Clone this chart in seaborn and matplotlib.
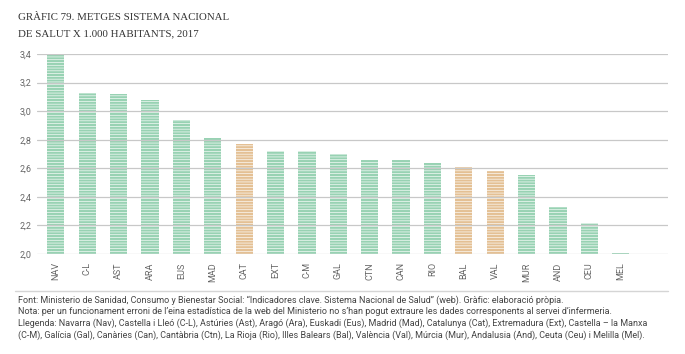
import numpy as np
import pandas as pd
import seaborn as sns
import matplotlib.pyplot as plt
from matplotlib.lines import Line2D

# data
regions = ['NAV', 'C-L', 'AST', 'ARA', 'EUS', 'MAD', 'CAT', 'EXT', 'C-M', 'GAL',
           'CTN', 'CAN', 'RIO', 'BAL', 'VAL', 'MUR', 'AND', 'CEU', 'MEL']
metges = [3.40, 3.13, 3.12, 3.08, 2.94, 2.81, 2.77, 2.72, 2.72, 2.70,
          2.66, 2.66, 2.64, 2.61, 2.58, 2.55, 2.33, 2.22, 2.01]
highlight = ['CAT', 'BAL', 'VAL']
yticks = [2.0, 2.2, 2.4, 2.6, 2.8, 3.0, 3.2, 3.4]

df = pd.DataFrame({'region': regions, 'value': metges})
df['grup'] = np.where(df['region'].isin(highlight), 'cat', 'resta')

sns.set_style('white')
plt.rcParams['font.family'] = ['Roboto', 'DejaVu Sans']
plt.rcParams['hatch.linewidth'] = 0.45

fig = plt.figure(figsize=(6.85, 3.54), dpi=100)
ax = fig.add_axes([0.054, 0.2825, 0.921, 0.565])

sns.barplot(data=df, x='region', y='value', hue='grup', ax=ax, dodge=False,
            palette={'resta': '#8edcb2', 'cat': '#f1c187'}, width=0.55,
            legend=False, hatch='------', edgecolor='white', linewidth=0)

ax.set_ylim(2.0, 3.4)
ax.set_xlim(-0.6, 19.5)
ax.set_yticks(yticks)
ax.set_yticklabels([f'{t:.1f}'.replace('.', ',') for t in yticks])
ax.yaxis.grid(True, color='#c8c8c8', linewidth=0.9)
ax.set_axisbelow(False)
for s in ax.spines.values():
    s.set_visible(False)
ax.tick_params(axis='y', labelsize=6.5, colors='#666666', length=0, pad=4)
ax.tick_params(axis='x', labelsize=6.5, colors='#666666', length=0, pad=6, labelrotation=90)
ax.set_xlabel('')
ax.set_ylabel('')

fig.text(18 / 685, 1 - 18 / 354, 'GRÀFIC 79. METGES SISTEMA NACIONAL', family='Liberation Serif',
         fontsize=7.8, color='#333333', va='center')
fig.text(18 / 685, 1 - 34 / 354, 'DE SALUT X 1.000 HABITANTS, 2017', family='Liberation Serif',
         fontsize=7.8, color='#333333', va='center')

fig.add_artist(Line2D([15 / 685, 668 / 685], [1 - 291 / 354] * 2, color='#d5d5d5', linewidth=1))

notes = [
    'Font: Ministerio de Sanidad, Consumo y Bienestar Social: “Indicadores clave. Sistema Nacional de Salud” (web). Gràfic: elaboració pròpia.',
    'Nota: per un funcionament erroni de l’eina estadística de la web del Ministerio no s’han pogut extraure les dades corresponents al servei d’infermeria.',
    'Llegenda: Navarra (Nav), Castella i Lleó (C-L), Astúries (Ast), Aragó (Ara), Euskadi (Eus), Madrid (Mad), Catalunya (Cat), Extremadura (Ext), Castella – la Manxa',
    '(C-M), Galícia (Gal), Canàries (Can), Cantàbria (Ctn), La Rioja (Rio), Illes Balears (Bal), València (Val), Múrcia (Mur), Andalusia (And), Ceuta (Ceu) i Melilla (Mel).',
]
texts = []
for i, line in enumerate(notes):
    texts.append(fig.text(18 / 685, 1 - (300 + 11.7 * i) / 354, line, fontsize=6.4,
                          color='#444444', va='center'))

# shrink the note font so the longest line spans the same width as in the reference
r = fig.canvas.get_renderer()
w = max(t.get_window_extent(r).width for t in texts)
for t in texts:
    t.set_fontsize(6.4 * 630 / w)

plt.savefig('out.png', dpi=100)
